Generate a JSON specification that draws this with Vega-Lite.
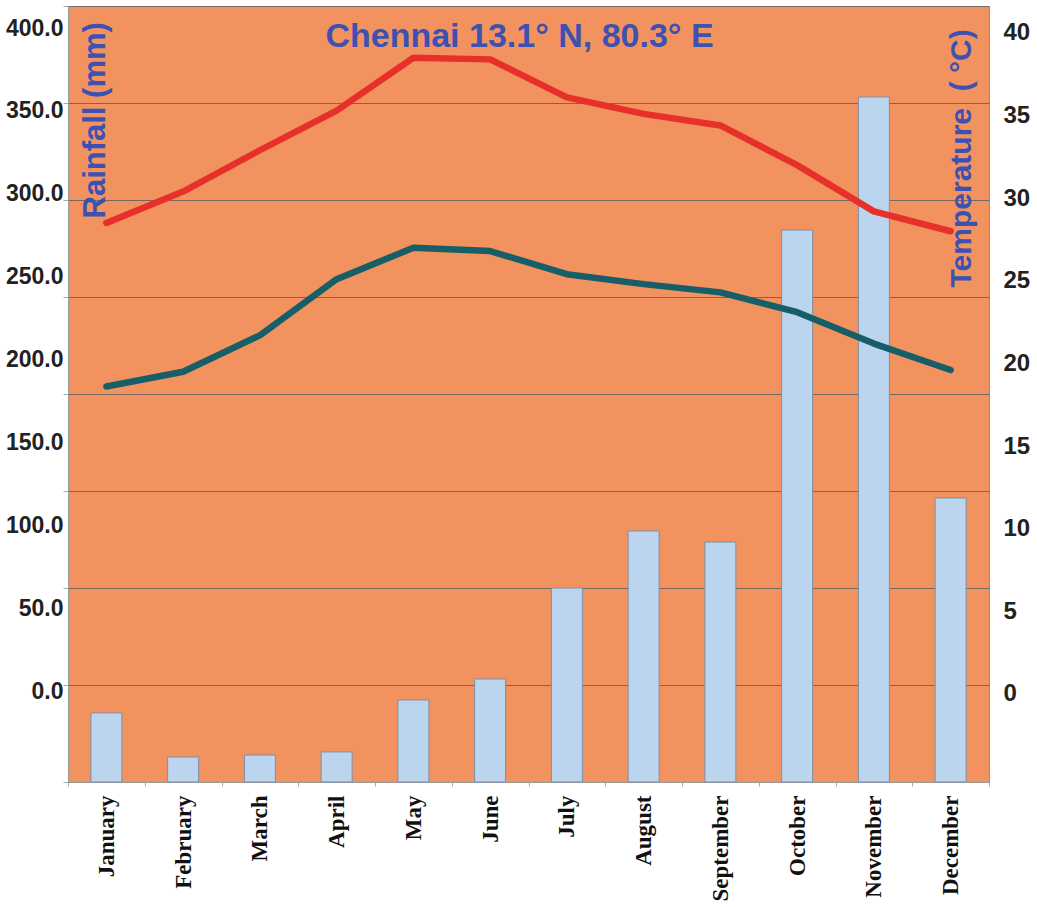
{
  "$schema": "https://vega.github.io/schema/vega-lite/v6.json",
  "width": 921,
  "height": 776,
  "autosize": {"type": "none"},
  "padding": {"left": 68, "top": 6, "right": 48, "bottom": 125},
  "background": "white",
  "title": {
    "text": "Chennai 13.1° N, 80.3° E",
    "frame": "group",
    "anchor": "middle",
    "offset": -75,
    "baseline": "alphabetic",
    "dx": -9,
    "font": "Liberation Sans",
    "fontSize": 34,
    "fontWeight": "bold",
    "color": "#3d51b3"
  },
  "config": {
    "view": {"fill": "#f2935f", "stroke": "#8c8c8c", "strokeWidth": 1}
  },
  "data": {
    "values": [
      {"month": "January", "rain": 35.6, "tmax": 28.5, "tmin": 18.6},
      {"month": "February", "rain": 12.9, "tmax": 30.4, "tmin": 19.5},
      {"month": "March", "rain": 13.9, "tmax": 32.9, "tmin": 21.7},
      {"month": "April", "rain": 15.5, "tmax": 35.3, "tmin": 25.1},
      {"month": "May", "rain": 42.3, "tmax": 38.5, "tmin": 27.0},
      {"month": "June", "rain": 53.1, "tmax": 38.4, "tmin": 26.8},
      {"month": "July", "rain": 100.0, "tmax": 36.1, "tmin": 25.4},
      {"month": "August", "rain": 129.4, "tmax": 35.1, "tmin": 24.8},
      {"month": "September", "rain": 123.7, "tmax": 34.4, "tmin": 24.3},
      {"month": "October", "rain": 284.5, "tmax": 32.0, "tmin": 23.1},
      {"month": "November", "rain": 353.1, "tmax": 29.2, "tmin": 21.2},
      {"month": "December", "rain": 146.4, "tmax": 28.0, "tmin": 19.6}
    ]
  },
  "encoding": {
    "x": {
      "field": "month",
      "type": "nominal",
      "sort": ["January", "February", "March", "April", "May", "June", "July", "August", "September", "October", "November", "December"],
      "scale": {"paddingInner": 0, "paddingOuter": 0},
      "axis": {
        "title": null,
        "labelAngle": -90,
        "labelFont": "Liberation Serif",
        "labelFontWeight": "bold",
        "labelFontSize": 23,
        "labelColor": "#111111",
        "labelPadding": 9,
        "tickBand": "extent",
        "tickSize": 4,
        "tickColor": "#aaaaaa",
        "domainColor": "#999999"
      }
    }
  },
  "layer": [
    {
      "mark": {"type": "bar", "width": 31, "fill": "#bcd5ee", "stroke": "#7d8ea6", "strokeWidth": 1},
      "encoding": {
        "y": {
          "field": "rain",
          "type": "quantitative",
          "scale": {"domain": [0, 400], "nice": false, "zero": true},
          "axis": {
            "orient": "left",
            "values": [0, 50, 100, 150, 200, 250, 300, 350, 400],
            "labels": false,
            "title": null,
            "grid": true,
            "gridColor": "#74685f",
            "gridWidth": 1.2,
            "ticks": true,
            "tickSize": 5,
            "tickColor": "#aaaaaa",
            "domain": true,
            "domainColor": "#999999"
          }
        }
      }
    },
    {
      "mark": {"type": "point", "opacity": 0},
      "encoding": {
        "y": {
          "field": "rain",
          "type": "quantitative",
          "scale": {"domain": [-54.9, 413.3], "nice": false, "zero": false},
          "axis": {
            "orient": "left",
            "values": [0, 50, 100, 150, 200, 250, 300, 350, 400],
            "format": ".1f",
            "grid": false,
            "ticks": false,
            "domain": false,
            "labelPadding": 5,
            "labelFont": "Liberation Sans",
            "labelFontWeight": "bold",
            "labelFontSize": 23,
            "labelColor": "#222222",
            "title": "Rainfall (mm)",
            "titleFont": "Liberation Sans",
            "titleFontSize": 31,
            "titleFontWeight": "bold",
            "titleColor": "#3d51b3",
            "titleAngle": -90,
            "titleAlign": "left",
            "titleBaseline": "alphabetic",
            "titleX": 36,
            "titleY": 212
          }
        }
      }
    },
    {
      "transform": [{"fold": ["tmax", "tmin"], "as": ["series", "temp"]}],
      "mark": {"type": "line", "strokeWidth": 6.5, "strokeCap": "round", "strokeJoin": "round"},
      "encoding": {
        "y": {
          "field": "temp",
          "type": "quantitative",
          "scale": {"domain": [-5.33, 41.63], "nice": false, "zero": false},
          "axis": {
            "orient": "right",
            "values": [0, 5, 10, 15, 20, 25, 30, 35, 40],
            "grid": false,
            "ticks": false,
            "domain": false,
            "labelPadding": 14,
            "labelFont": "Liberation Sans",
            "labelFontWeight": "bold",
            "labelFontSize": 24,
            "labelColor": "#222222",
            "title": "Temperature\u00a0\u00a0(\u00a0°C)",
            "titleFont": "Liberation Sans",
            "titleFontSize": 30,
            "titleFontWeight": "bold",
            "titleColor": "#3d51b3",
            "titleAngle": -90,
            "titleAlign": "left",
            "titleBaseline": "alphabetic",
            "titleX": -19,
            "titleY": 281
          }
        },
        "color": {
          "field": "series",
          "type": "nominal",
          "scale": {"domain": ["tmax", "tmin"], "range": ["#e8302a", "#175e68"]},
          "legend": null
        }
      }
    }
  ],
  "resolve": {"scale": {"y": "independent"}}
}
